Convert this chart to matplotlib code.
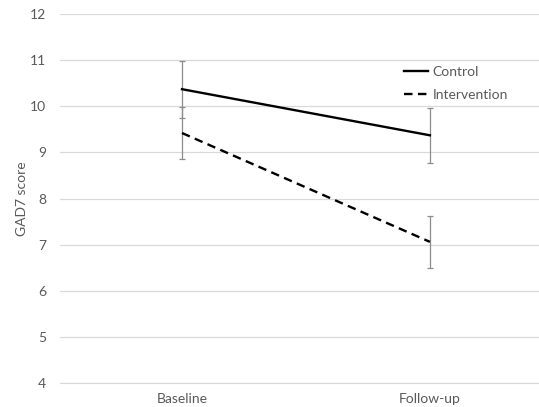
import matplotlib.pyplot as plt

plt.rcParams['font.family'] = ['Lato', 'DejaVu Sans']

timepoints = ['Baseline', 'Follow-up']
control = [10.37, 9.37]
control_err = [0.62, 0.59]
intervention = [9.42, 7.06]
intervention_err = [0.57, 0.57]

grey = '#595959'
x = [0, 1]

fig = plt.figure(figsize=(5.39, 4.07), dpi=100)
ax = fig.add_axes([60 / 539, 24 / 407, 479 / 539, 369 / 407])

ax.errorbar(x, control, yerr=control_err, fmt='none', ecolor='#8c8c8c',
            elinewidth=0.9, capsize=2.5, capthick=0.9, zorder=2)
ax.errorbar(x, intervention, yerr=intervention_err, fmt='none', ecolor='#8c8c8c',
            elinewidth=0.9, capsize=2.5, capthick=0.9, zorder=2)
ax.plot(x, control, color='black', lw=1.7, label='Control', zorder=3)
ax.plot(x, intervention, color='black', lw=1.7, ls=(0, (3.6, 2.3)),
        label='Intervention', zorder=3)

ax.set_xlim(-0.492, 1.44)
ax.set_ylim(4, 12)
ax.set_yticks(range(4, 13))
ax.set_xticks(x)
ax.set_xticklabels(timepoints)
ax.grid(axis='y', color='#d9d9d9', lw=0.9)
ax.set_axisbelow(True)
for s in ['top', 'right', 'left']:
    ax.spines[s].set_visible(False)
ax.spines['bottom'].set_color('#d9d9d9')
ax.tick_params(length=0, colors=grey, labelsize=10, pad=10)
ax.tick_params(axis='x', pad=7)
ax.set_ylabel('GAD7 score', color=grey, fontsize=10)
ax.yaxis.set_label_coords(-0.067, 0.5)

leg = ax.legend(loc='upper left', bbox_to_anchor=(404 / 539, 1 - 66 / 407),
                bbox_transform=fig.transFigure, frameon=False,
                fontsize=10, handlelength=1.7, handletextpad=0.35,
                labelspacing=0.8, borderaxespad=0, borderpad=0)
for t in leg.get_texts():
    t.set_color(grey)

fig.savefig('out.png', dpi=100)
